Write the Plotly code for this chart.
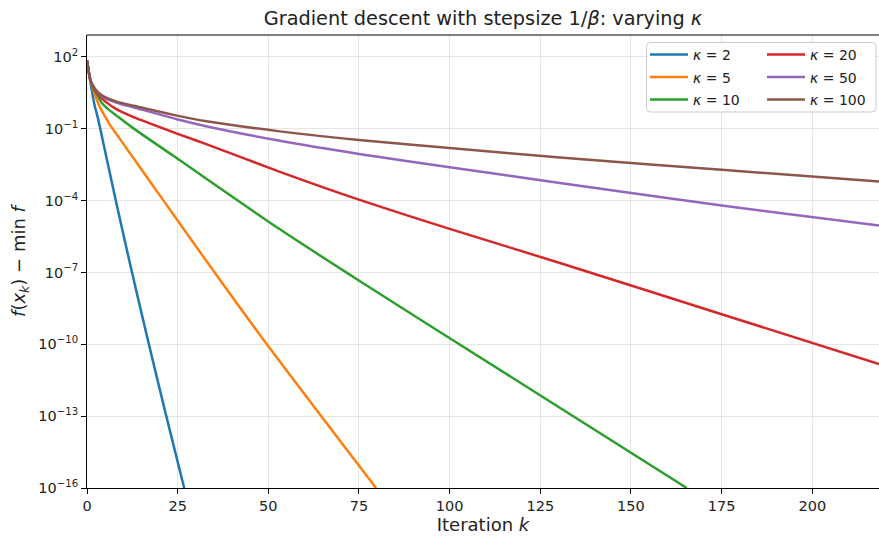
import plotly.graph_objects as go

# ---- data (iteration k, f(x_k) - min f) ----
kappa_labels = ["2", "5", "10", "20", "50", "100"]
colors = ["#1f77b4", "#ff7f0e", "#2ca02c", "#d62728", "#9467bd", "#8c564b"]

x_k2 = [0, 1, 2, 3, 3.6, 7.8, 12.1, 17, 21.8, 26.8]
y_k2 = [72, 7.9, 1.12, 0.28, 0.11, 1.26e-4, 1.6e-7, 1.1e-10, 1.1e-13, 1e-16]

x_k5 = [0, 1, 2, 3, 4, 5, 6.3, 8.7, 21.1, 35.2, 49.6, 79.7]
y_k5 = [72, 10, 3.2, 1.26, 0.6, 0.32, 0.15, 0.045, 1e-4, 1e-7, 1e-10, 1e-16]

x_k10 = [0, 1, 2, 2.7, 4, 6, 8.5, 12.5, 24, 53.3, 74.2, 117.3, 165.4]
y_k10 = [72, 10, 4.0, 2.8, 1.26, 0.63, 0.32, 0.112, 7.1e-3, 6.2e-6, 5.5e-8, 4e-12, 1e-16]

x_k20 = [0, 1, 2, 3, 5, 8.6, 12.5, 24.8, 32.5, 53.2, 75, 100, 130.4, 175, 218.4]
y_k20 = [72, 10, 4.5, 2.8, 1.4, 0.6, 0.32, 0.063, 0.024, 1.6e-3, 1.1e-4, 6.6e-6,
         2.5e-7, 1.8e-9, 1.5e-11]

x_k50 = [0, 1, 2, 3, 5, 8, 13.2, 24.8, 32.5, 53.2, 75, 100, 130.4, 175, 218.4]
y_k50 = [72, 10, 5.0, 3.2, 1.9, 1.26, 0.76, 0.25, 0.132, 0.0316, 8.9e-3, 2.5e-3,
         5.5e-4, 6.2e-5, 9.1e-6]

x_k100 = [0, 1, 2, 3, 5, 8, 13.2, 24.8, 32.5, 53.2, 75, 100, 130.4, 175, 218.4]
y_k100 = [72, 10, 5.2, 3.4, 2.1, 1.4, 0.89, 0.355, 0.21, 0.078, 0.034, 0.0158,
          6.3e-3, 1.95e-3, 6.3e-4]

x_ticks = [0, 25, 50, 75, 100, 125, 150, 175, 200]
y_ticks = [1e2, 1e-1, 1e-4, 1e-7, 1e-10, 1e-13, 1e-16]
y_ticktext = ["10<sup>2</sup>", "10<sup>−1</sup>", "10<sup>−4</sup>", "10<sup>−7</sup>",
              "10<sup>−10</sup>", "10<sup>−13</sup>", "10<sup>−16</sup>"]

series_x = [x_k2, x_k5, x_k10, x_k20, x_k50, x_k100]
series_y = [y_k2, y_k5, y_k10, y_k20, y_k50, y_k100]
legend_ids = ["legend", "legend", "legend", "legend2", "legend2", "legend2"]

FONT = "DejaVu Sans"

# ---- figure geometry (pixels) ----
W, H = 879, 536
ML, MR, MT, MB = 87, 0, 35, 48
PW, PH = W - ML - MR, H - MT - MB


def px_to_paper(px, py):
    return (px - ML) / PW, (H - MB - py) / PH


fig = go.Figure()
for i, (xs, ys, lab, col, lg) in enumerate(zip(series_x, series_y, kappa_labels, colors, legend_ids)):
    fig.add_trace(go.Scatter(
        x=xs, y=ys, mode="lines", name="<i>κ</i> = " + lab,
        line=dict(color=col, width=2.5, shape="spline", smoothing=0.8),
        legend=lg, legendgroup=f"g{i}",
    ))

# legend frame (rounded) as a shape
x0, y0 = px_to_paper(646.5, 112)
x1, y1 = px_to_paper(876, 42.5)
r = 4 / PW
ry = 4 / PH
path = (f"M{x0 + r},{y0} L{x1 - r},{y0} Q{x1},{y0} {x1},{y0 + ry} "
        f"L{x1},{y1 - ry} Q{x1},{y1} {x1 - r},{y1} L{x0 + r},{y1} "
        f"Q{x0},{y1} {x0},{y1 - ry} L{x0},{y0 + ry} Q{x0},{y0} {x0 + r},{y0} Z")
fig.add_shape(type="path", path=path, xref="paper", yref="paper",
              line=dict(color="#cccccc", width=1),
              fillcolor="rgba(255,255,255,0.85)", layer="above")

lx1, ly = px_to_paper(645, 39)
lx2, _ = px_to_paper(762, 39)
legend_common = dict(
    bgcolor="rgba(0,0,0,0)", borderwidth=0, xanchor="left", yanchor="top",
    font=dict(family=FONT, size=14, color="#222"), itemwidth=38,
    tracegroupgap=1.3,
)

fig.update_layout(
    width=W, height=H,
    margin=dict(l=ML, r=MR, t=MT, b=MB, autoexpand=False),
    paper_bgcolor="white", plot_bgcolor="white",
    font=dict(family=FONT, size=14.5, color="#222"),
    title=dict(text="Gradient descent with stepsize 1/<i>β</i>: varying <i>κ</i>",
               x=(ML + PW / 2) / W, xanchor="center", y=1 - 18 / H, yanchor="middle",
               font=dict(family=FONT, size=19.3, color="#222")),
    legend=dict(x=lx1, y=ly, **legend_common),
    legend2=dict(x=lx2, y=ly, **legend_common),
    showlegend=True,
)

fig.update_xaxes(
    range=[0, 218.4], tickvals=x_ticks, ticks="outside", ticklen=5, tickwidth=1,
    tickcolor="black", showline=True, linecolor="black", linewidth=1, mirror=False,
    showgrid=True, gridcolor="#e6e6e6", gridwidth=1, zeroline=False,
    tickfont=dict(family=FONT, size=14.5, color="#222"),
    title=dict(text="Iteration <i>k</i>", font=dict(family=FONT, size=18, color="#222"),
               standoff=2),
)
fig.update_yaxes(
    type="log", range=[-16, 2.917], tickvals=y_ticks, ticktext=y_ticktext,
    ticks="outside", ticklen=5, tickwidth=1, tickcolor="black",
    showline=True, linecolor="black", linewidth=1, mirror=False,
    showgrid=True, gridcolor="#e6e6e6", gridwidth=1, zeroline=False,
    tickfont=dict(family=FONT, size=14.5, color="#222"),
    title=dict(text="<i>f</i>(<i>x</i><sub><i>k</i></sub>) − min <i>f</i>",
               font=dict(family=FONT, size=18, color="#222"), standoff=7),
)

# top spine
fig.add_shape(type="line", xref="paper", yref="paper", x0=0, x1=1, y0=1, y1=1,
              line=dict(color="black", width=1), layer="above")

fig.write_html("out.html", config={"displayModeBar": False},
               post_script="document.body.style.margin='0';document.body.style.overflow='hidden';")
